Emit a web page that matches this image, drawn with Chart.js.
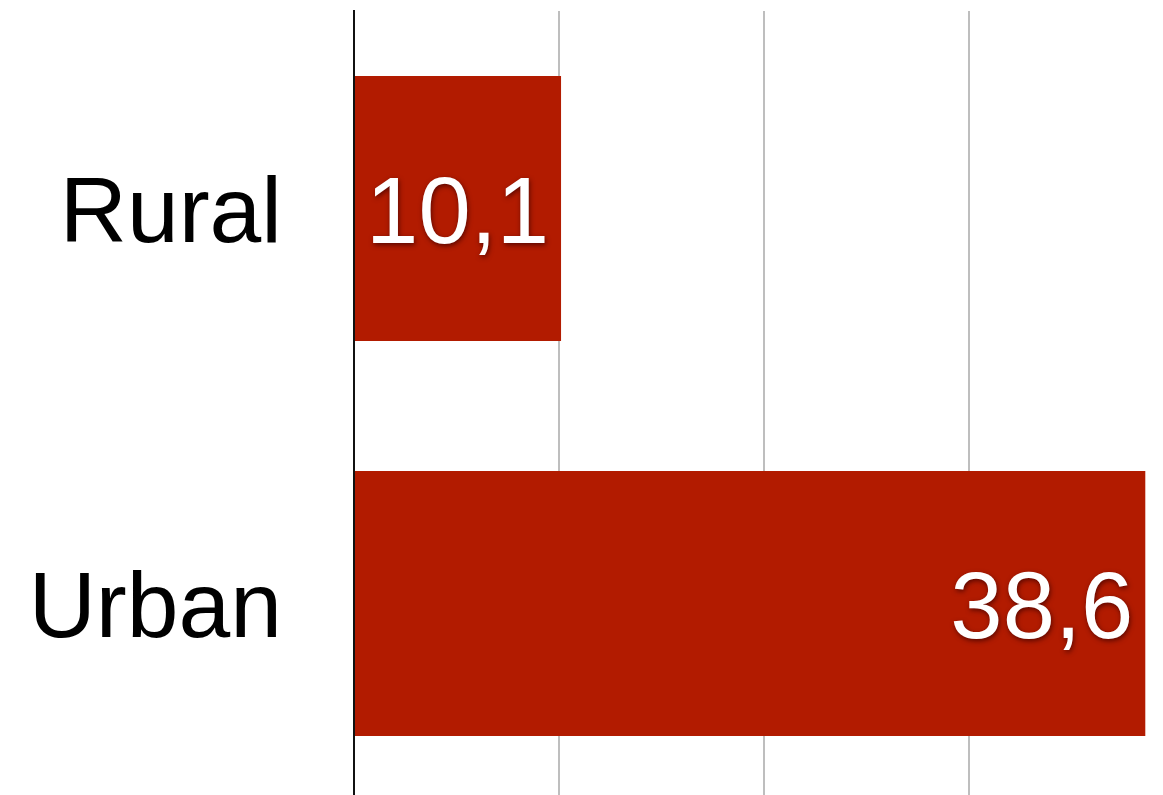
<!DOCTYPE html>
<html>
<head>
<meta charset="utf-8">
<script src="https://cdn.jsdelivr.net/npm/chart.js@4"></script>
<style>
  html, body { margin: 0; padding: 0; background: #fff; overflow: hidden; }
  #chart { display: block; }
</style>
</head>
<body>
<canvas id="chart" width="1180" height="801"></canvas>
<script>
// categories and values (comma as decimal mark in labels)
const categories = ['Rural', 'Urban'];
const shares = [10.1, 38.6];
const axisTicks = [0, 10, 20, 30, 40];

const barRed = '#b21b00';
const fontFamily = '"Liberation Sans", Helvetica, Arial, sans-serif';

// white value labels inside the end of each bar
const valueLabels = {
    id: 'valueLabels',
    afterDatasetsDraw(chart) {
        const ctx = chart.ctx;
        const meta = chart.getDatasetMeta(0);
        ctx.save();
        ctx.font = '94px ' + fontFamily;
        ctx.fillStyle = '#ffffff';
        ctx.textAlign = 'right';
        ctx.textBaseline = 'middle';
        ctx.shadowColor = 'rgba(60, 0, 0, 0.75)';
        ctx.shadowBlur = 5;
        ctx.shadowOffsetX = 1;
        ctx.shadowOffsetY = 2;
        meta.data.forEach((bar, i) => {
            const text = shares[i].toFixed(1).replace('.', ',');
            ctx.fillText(text, bar.x - 12, bar.y + 9);
        });
        ctx.restore();
    }
};

new Chart(document.getElementById('chart'), {
    type: 'bar',
    data: {
        labels: categories,
        datasets: [{
            data: shares,
            backgroundColor: barRed,
            borderWidth: 0,
            barPercentage: 0.671,
            categoryPercentage: 1.0
        }]
    },
    options: {
        indexAxis: 'y',
        responsive: false,
        animation: false,
        layout: { padding: { top: 11, right: 6, bottom: 0, left: 0 } },
        plugins: {
            legend: { display: false },
            tooltip: { enabled: false }
        },
        scales: {
            x: {
                min: axisTicks[0],
                max: axisTicks[axisTicks.length - 1],
                afterBuildTicks: (scale) => {
                    scale.ticks = axisTicks.map(v => ({ value: v }));
                },
                afterFit: (scale) => {
                    scale.height = 0;
                    scale.paddingLeft = 0;
                    scale.paddingRight = 0;
                },
                ticks: { display: false },
                border: { display: false },
                grid: {
                    drawTicks: false,
                    lineWidth: 2,
                    color: (c) => c.tick && c.tick.value === 0 ? 'rgba(0,0,0,0)' : '#bebebe'
                }
            },
            y: {
                afterFit: (scale) => {
                    scale.width = 354;
                    scale.paddingTop = 0;
                    scale.paddingBottom = 0;
                },
                grid: { display: false, drawTicks: false },
                border: { display: true, color: '#111111', width: 2 },
                ticks: {
                    padding: 72,
                    labelOffset: 8,
                    color: '#000000',
                    font: { family: fontFamily, size: 93 }
                }
            }
        }
    },
    plugins: [valueLabels]
});
</script>
</body>
</html>
